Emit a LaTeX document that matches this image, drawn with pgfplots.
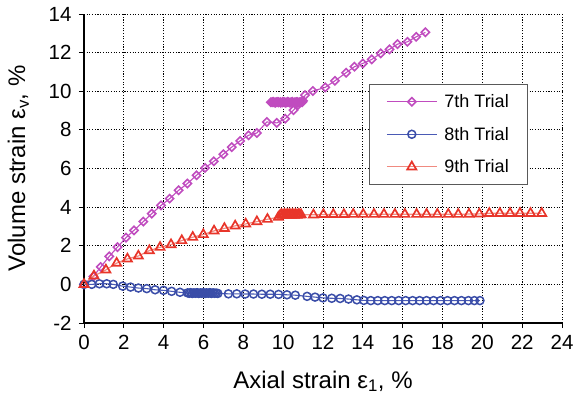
\documentclass[border=0pt]{standalone}
\usepackage{fontspec}
\setmainfont{Liberation Sans}
\usepackage{pgfplots}
\pgfplotsset{compat=1.18}
\usetikzlibrary{calc}
\definecolor{c7}{HTML}{C04CBF}
\definecolor{c8}{HTML}{3A4DA8}
\definecolor{c8l}{HTML}{4A5AB5}
\definecolor{c9}{HTML}{E8352A}
\definecolor{c9l}{HTML}{F08A80}
\begin{document}
\begin{tikzpicture}
\begin{axis}[
  scale only axis, width=478bp, height=309bp,
  xmin=0, xmax=24, ymin=-2, ymax=14,
  xtick={0,2,...,24}, ytick={-2,0,...,14},
  axis lines=left, axis line style={-, line width=1.1pt, black},
  tick align=outside, major tick length=5bp, tick style={black, line width=0.8pt},
  grid=major, major grid style={black, line width=0.85pt, dash pattern=on 1.1bp off 1.6bp},
  /pgf/number format/assume math mode=true,
  ticklabel style={font=\fontsize{20.5bp}{24bp}\selectfont},
  xticklabel style={yshift=-4bp},
  yticklabel style={xshift=-4bp},
  label style={font=\fontsize{24bp}{28bp}\selectfont},
  xlabel shift=14bp, ylabel shift=13bp,
  xlabel={Axial strain ε\textsubscript{1}, \%},
  ylabel={Volume strain ε\textsubscript{v}, \%},
  legend style={at={(axis cs:14.3,10.37)}, anchor=north west, draw=black!65, line width=0.8pt,
    font=\fontsize{18bp}{20bp}\selectfont, fill=white, row sep=14bp, column sep=5bp,
    inner xsep=17bp, inner ysep=8bp},
  legend cell align=left,
  legend image code/.code={\draw[mark repeat=2,mark phase=2] plot coordinates {(0bp,0bp) (25bp,0bp) (50bp,0bp)};},
]
\coordinate (bl) at (rel axis cs:0,0);
\coordinate (tr) at (rel axis cs:1,1);
\addplot[c7, line width=1.1pt, mark=square, mark size=2.9bp, mark options={c7, line width=1.6pt, fill=none, rotate=45}] coordinates {
(0,0) (0.47,0.41) (0.84,0.90) (1.27,1.45) (1.68,1.93) (2.11,2.42) (2.51,2.80) (2.98,3.25)
(3.40,3.66) (3.87,4.09) (4.30,4.44) (4.75,4.87) (5.19,5.22) (5.65,5.65) (6.08,6.03) (6.52,6.37)
(7.00,6.74) (7.42,7.11) (7.84,7.43) (8.26,7.72) (8.68,7.84) (9.18,8.41) (9.68,8.36) (10.10,8.58)
(10.52,9.02) (10.75,9.30) (10.95,9.43) (10.85,9.44) (10.75,9.42) (10.65,9.44) (10.55,9.42)
(10.45,9.44) (10.35,9.42) (10.25,9.44) (10.15,9.42) (10.05,9.44) (9.95,9.42) (9.85,9.44)
(9.75,9.42) (9.65,9.44) (9.55,9.42) (9.45,9.44) (9.38,9.43) (9.50,9.45) (9.62,9.41) (9.74,9.45)
(9.86,9.41) (9.98,9.45) (10.10,9.41) (10.22,9.45) (10.34,9.41) (10.46,9.45) (10.58,9.41)
(10.70,9.45) (10.82,9.41) (10.94,9.45) (11.00,9.50) (11.10,9.80) (11.49,10.01) (12.11,10.20)
(12.60,10.54) (13.16,10.96) (13.58,11.27) (14.00,11.44) (14.45,11.65) (14.90,11.96) (15.34,12.17)
(15.74,12.44) (16.24,12.56) (16.68,12.82) (17.14,13.05)
};
\addlegendentry{7th Trial}
\addplot[c8l, line width=1.1pt, mark=o, mark size=4bp, mark options={c8, line width=1.5pt}] coordinates {
(0,0) (0.39,0.00) (0.77,0.03) (1.14,0.03) (1.47,0.00) (1.94,-0.09) (2.34,-0.14) (2.73,-0.19)
(3.15,-0.22) (3.57,-0.28) (3.99,-0.31) (4.40,-0.36) (4.82,-0.41)
(5.20,-0.44) (5.28,-0.46) (5.36,-0.43) (5.44,-0.47) (5.52,-0.44) (5.60,-0.46) (5.68,-0.43)
(5.76,-0.47) (5.84,-0.44) (5.92,-0.46) (6.00,-0.43) (6.08,-0.47) (6.16,-0.44) (6.24,-0.46)
(6.32,-0.43) (6.40,-0.47) (6.48,-0.44) (6.56,-0.46) (6.64,-0.45) (6.72,-0.47)
(7.25,-0.49) (7.67,-0.49) (8.09,-0.50) (8.51,-0.50) (8.93,-0.51) (9.35,-0.51) (9.77,-0.52)
(10.19,-0.54) (10.61,-0.56) (11.20,-0.62) (11.60,-0.66) (12.00,-0.70) (12.44,-0.72)
(12.86,-0.73) (13.28,-0.76) (13.70,-0.80) (14.05,-0.83) (14.40,-0.84) (14.75,-0.84) (15.10,-0.84)
(15.45,-0.84) (15.80,-0.84) (16.15,-0.84) (16.50,-0.84) (16.85,-0.84) (17.20,-0.84) (17.55,-0.84)
(17.90,-0.84) (18.25,-0.84) (18.60,-0.84) (18.95,-0.84) (19.30,-0.84) (19.60,-0.84) (19.88,-0.84)
};
\addlegendentry{8th Trial}
\addplot[c9l, line width=1.2pt, mark=triangle, mark size=5.2bp, mark options={c9, line width=1.7pt}] coordinates {
(0,0) (0.50,0.44) (1.10,0.75) (1.64,1.10) (2.18,1.32) (2.73,1.47) (3.28,1.75) (3.82,1.92)
(4.37,2.06) (4.91,2.27) (5.46,2.44) (5.99,2.58) (6.53,2.77) (7.05,2.90) (7.59,3.03) (8.12,3.13)
(8.68,3.25) (9.21,3.37) (9.76,3.48)
(9.85,3.58) (9.92,3.62) (9.99,3.58) (10.06,3.63) (10.13,3.58) (10.20,3.63) (10.27,3.58)
(10.34,3.63) (10.41,3.58) (10.48,3.63) (10.55,3.58) (10.62,3.63) (10.69,3.58) (10.76,3.62)
(10.83,3.60) (10.90,3.61)
(11.52,3.60) (12.02,3.62) (12.52,3.62) (13.05,3.62) (13.52,3.63) (14.02,3.63) (14.56,3.63)
(15.06,3.63) (15.61,3.63) (16.11,3.63) (16.70,3.63) (17.20,3.63) (17.74,3.63) (18.29,3.63)
(18.79,3.63) (19.33,3.64) (19.85,3.65) (20.35,3.68) (20.88,3.68) (21.39,3.68) (21.89,3.68)
(22.42,3.68) (22.98,3.68)
};
\addlegendentry{9th Trial}
\end{axis}
\pgfresetboundingbox
\path ($(bl)+(-84bp,-75bp)$) rectangle ($(tr)+(15bp,14bp)$);
\end{tikzpicture}
\end{document}
